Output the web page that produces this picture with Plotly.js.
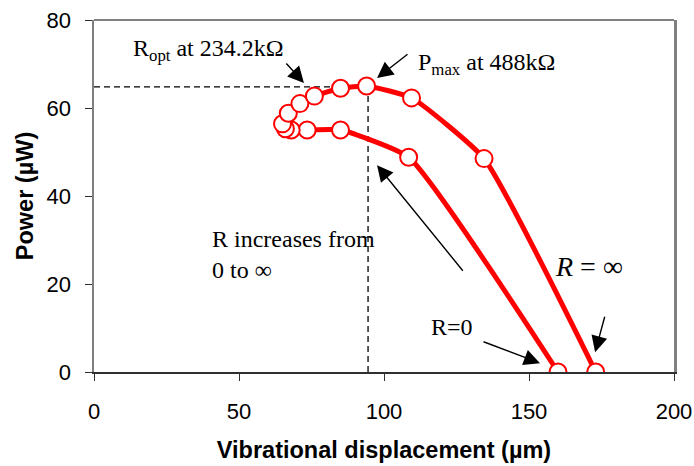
<!DOCTYPE html>
<html><head><meta charset="utf-8">
<script src="https://cdn.plot.ly/plotly-3.0.1.min.js"></script>
<style>html,body{margin:0;padding:0;background:#fff}#chart{width:694px;height:466px}</style>
</head><body><div id="chart"></div>
<script>
// Displacement (µm) and power (µW), ordered as R increases from 0 to ∞
const displacement = [160, 108.5, 85, 73.5, 68, 66, 65, 67, 71, 76, 85, 94, 109.5, 134.5, 173];
const power        = [0,   48.8,  55, 55,   55, 55.3, 56.4, 58.8, 61, 62.7, 64.5, 65, 62.3, 48.5, 0];
const optX = 94.5, optY = 64.8;

const serif = 'Liberation Serif, Times New Roman, serif';
const sans = 'Liberation Sans, Arial, sans-serif';
const tfont = {family: serif, size: 24, color: '#000'};

const traces = [
  {x: [0, optX], y: [optY, optY], mode: 'lines', line: {color: '#000', width: 1.3, dash: '6px,4px'}, hoverinfo: 'skip'},
  {x: [optX, optX], y: [0, optY], mode: 'lines', line: {color: '#000', width: 1.3, dash: '6px,4px'}, hoverinfo: 'skip'},
  {x: displacement, y: power, mode: 'lines+markers',
   line: {color: '#ff0000', width: 5, shape: 'spline', smoothing: 0.45},
   marker: {size: 17, color: '#fff', line: {color: '#ff0000', width: 2}}}
];

function arrow(x, y, ax, ay) {
  return {x, y, ax, ay, xref: 'x', yref: 'y', text: '', showarrow: true,
          arrowhead: 2, arrowsize: 2.3, arrowwidth: 1.4, arrowcolor: '#000'};
}
function label(x, y, text, extra) {
  return Object.assign({xref: 'paper', yref: 'paper', x, y, text, showarrow: false,
          font: tfont, xanchor: 'left', yanchor: 'middle', align: 'left'}, extra || {});
}
// paper coords helpers: plot area 94..674 px, 20..372 px
const px = v => (v - 94) / 580, py = v => (372 - v) / 352;

const layout = {
  width: 694, height: 466, showlegend: false,
  paper_bgcolor: '#fff', plot_bgcolor: '#fff',
  margin: {l: 94, r: 20, t: 20, b: 94},
  xaxis: {range: [0, 200], dtick: 50, showgrid: false, zeroline: false,
    showline: true, linecolor: '#303030', linewidth: 1.5, mirror: false,
    ticks: 'outside', ticklen: 7, tickcolor: '#303030', ticklabelstandoff: 12,
    tickfont: {family: sans, size: 22, color: '#000'},
    title: {text: '<b>Vibrational displacement (µm)</b>', standoff: 18,
      font: {family: sans, size: 23.5, color: '#000'}}},
  yaxis: {range: [0, 80], dtick: 20, showgrid: false, zeroline: false,
    showline: true, linecolor: '#808080', linewidth: 2.5, mirror: true,
    ticks: 'outside', ticklen: 7, tickcolor: '#303030', ticklabelstandoff: 9,
    tickfont: {family: sans, size: 22, color: '#000'},
    title: {text: '<b>Power (µW)</b>', standoff: 7,
      font: {family: sans, size: 23.5, color: '#000'}}},
  shapes: [
    {type: 'line', xref: 'paper', yref: 'paper', x0: 0, x1: 1, y0: 1, y1: 1,
     line: {color: '#808080', width: 2}}
  ],
  annotations: [
    label(px(131), py(50), 'R<sub>opt</sub> at 234.2kΩ'),
    label(px(416), py(64), 'P<sub>max</sub> at 488kΩ'),
    label(px(210), py(254), 'R increases from<br>0 to ∞'),
    label(px(429), py(327), 'R=0'),
    label(px(553), py(266), '<i>R</i> = ∞', {font: {family: serif, size: 28, color: '#000'}}),
    arrow(72.4, 65.7, -19, -21),
    arrow(97.6, 66.8, 32, -25),
    arrow(97.6, 47, 87, 107),
    arrow(153.8, 2.0, -58, -22),
    arrow(172.8, 4.5, 10, -37)
  ]
};
Plotly.newPlot('chart', traces, layout, {staticPlot: true});
</script></body></html>
